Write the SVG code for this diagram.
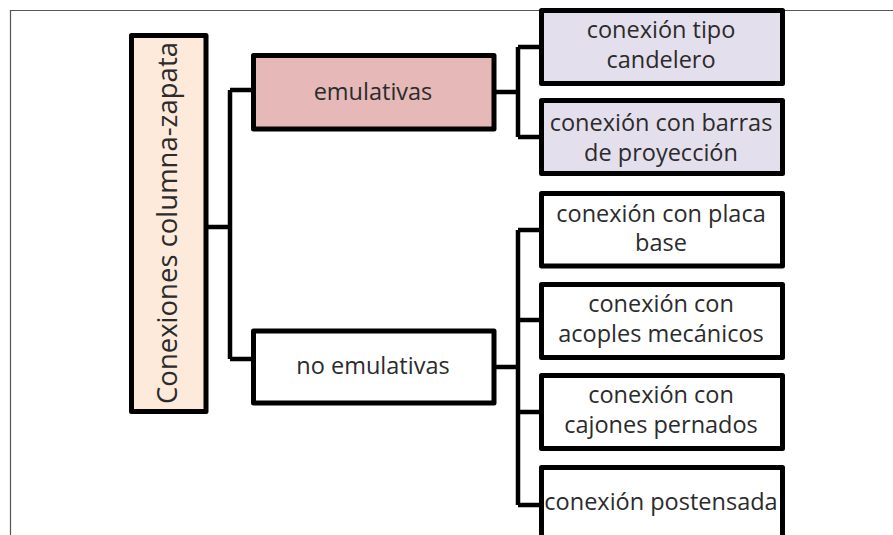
<svg xmlns="http://www.w3.org/2000/svg" width="893" height="535" viewBox="0 0 893 535">
<style>
.box{stroke:#000;stroke-width:5;stroke-linejoin:round}
.t{font-family:"Open Sans","Noto Sans","Liberation Sans",sans-serif;font-size:23.5px;fill:#2b2b2b;text-anchor:middle}
.c{fill:none;stroke:#000;stroke-width:4.5;stroke-linejoin:miter}
</style>
<rect width="893" height="535" fill="#fff"/>
<path d="M10.5,535 V10.5 H893" fill="none" stroke="#555" stroke-width="1.2"/>
<g id="connectors">
<path class="c" d="M208,227 H230 M230,90 V359 M230,90 H252 M230,359 H252"/>
<path class="c" d="M496,92 H518 M518,47 V137 M518,47 H540 M518,137 H540"/>
<path class="c" d="M496,367 H518 M518,230 V505 M518,230 H540 M518,320 H540 M518,412 H540 M518,505 H540"/>
</g>
<g id="root">
<rect class="box" x="131.5" y="35.5" width="74.5" height="376" fill="#fdeadb"/>
<text class="t" transform="translate(177,223) rotate(-90)" style="font-size:27.5px">Conexiones columna-zapata</text>
</g>
<g id="emulativas">
<rect class="box" x="253.5" y="55.5" width="240.5" height="73.5" fill="#e6b8b7"/>
<text class="t" x="373" y="100">emulativas</text>
</g>
<g id="no-emulativas">
<rect class="box" x="253.5" y="331" width="240.5" height="72" fill="#fff"/>
<text class="t" x="373" y="374">no emulativas</text>
</g>
<g id="candelero">
<rect class="box" x="541.5" y="10.5" width="241" height="73" fill="#e4dfec"/>
<text class="t" x="661" y="38">conexión tipo</text>
<text class="t" x="661" y="68">candelero</text>
</g>
<g id="barras">
<rect class="box" x="541.5" y="100.5" width="241" height="73" fill="#e4dfec"/>
<text class="t" x="661" y="131">conexión con barras</text>
<text class="t" x="661" y="161">de proyección</text>
</g>
<g id="placa">
<rect class="box" x="541.5" y="193.5" width="241" height="72.5" fill="#fff"/>
<text class="t" x="661" y="222">conexión con placa</text>
<text class="t" x="661" y="251">base</text>
</g>
<g id="acoples">
<rect class="box" x="541.5" y="284.5" width="241" height="73" fill="#fff"/>
<text class="t" x="661" y="312">conexión con</text>
<text class="t" x="661" y="342">acoples mecánicos</text>
</g>
<g id="cajones">
<rect class="box" x="541.5" y="375.5" width="241" height="73" fill="#fff"/>
<text class="t" x="661" y="403">conexión con</text>
<text class="t" x="661" y="433">cajones pernados</text>
</g>
<g id="postensada">
<rect class="box" x="541.5" y="467.5" width="241" height="80" fill="#fff"/>
<text class="t" x="661" y="510">conexión postensada</text>
</g>
</svg>
